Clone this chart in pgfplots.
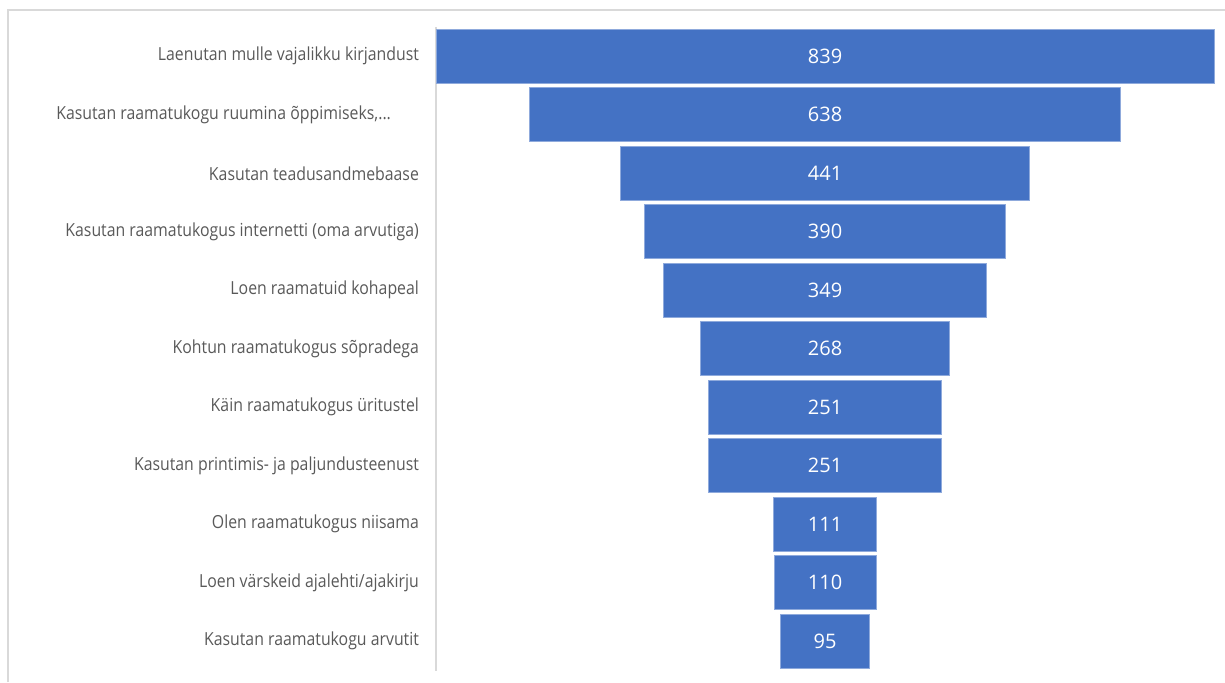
\documentclass[border=0pt]{standalone}
\usepackage{fontspec}
\setmainfont{Open Sans}[FakeStretch=0.88]
\newfontfamily\numfont{Open Sans}
\usepackage{pgfplots}
\usepackage{pgfplotstable}
\pgfplotsset{compat=1.18}
\definecolor{barblue}{HTML}{4472C4}
\definecolor{baredge}{HTML}{8FAADC}
\definecolor{labelgray}{HTML}{595959}
\definecolor{framegray}{HTML}{D9D9D9}

% funnel values, top to bottom
\pgfplotstableread{
idx v
0 839
1 638
2 441
3 390
4 349
5 268
6 251
7 251
8 111
9 110
10 95
}\funnel

\pgfplotsset{funnelbox/.style={
    at={(218pt,5.75pt)}, anchor=south west,
    scale only axis,
    width=389pt, height=321.75pt,
    xmin=0, xmax=839,
    ymin=-0.5, ymax=10.5,
    y dir=reverse,
    clip=false,
}}

\begin{document}
\begin{tikzpicture}
\useasboundingbox (0pt,0pt) rectangle (612.5pt,341pt);
\draw[framegray, line width=1pt] (4pt,0pt) -- (4pt,336pt) -- (612.5pt,336pt);
\begin{axis}[
    funnelbox,
    xbar stacked,
    bar width=0.92,
    axis x line=none,
    axis y line*=left,
    axis line style={framegray, line width=0.8pt},
    ytick={0,1,2,3,4,5,6,7,8,9,10},
    yticklabels={
        Laenutan mulle vajalikku kirjandust,
        {Kasutan raamatukogu ruumina õppimiseks,{.}{.}{.}\kern14pt},
        Kasutan teadusandmebaase,
        Kasutan raamatukogus internetti (oma arvutiga),
        Loen raamatuid kohapeal,
        Kohtun raamatukogus sõpradega,
        Käin raamatukogus üritustel,
        Kasutan printimis- ja paljundusteenust,
        Olen raamatukogus niisama,
        Loen värskeid ajalehti/ajakirju,
        Kasutan raamatukogu arvutit},
    major tick length=0pt,
    yticklabel style={text=labelgray, font=\fontsize{9}{10}\selectfont, xshift=-5pt},
]
% invisible offset that centres each bar
\addplot[draw=none, fill=none] table[y=idx, x expr={(839-\thisrow{v})/2}] {\funnel};
\addplot[fill=barblue, draw=baredge, line width=0.5pt] table[y=idx, x=v] {\funnel};
\end{axis}
% value labels in the middle of the funnel
\begin{axis}[funnelbox, hide axis]
\addplot[only marks, mark=none,
    nodes near coords={\pgfmathprintnumber{\pgfplotspointmeta}},
    point meta=explicit,
    /pgf/number format/assume math mode=true,
    every node near coord/.append style={anchor=center, text=white,
        font=\numfont\fontsize{10}{12}\selectfont}]
    table[y=idx, x expr=419.5, meta=v] {\funnel};
\end{axis}
\end{tikzpicture}
\end{document}
